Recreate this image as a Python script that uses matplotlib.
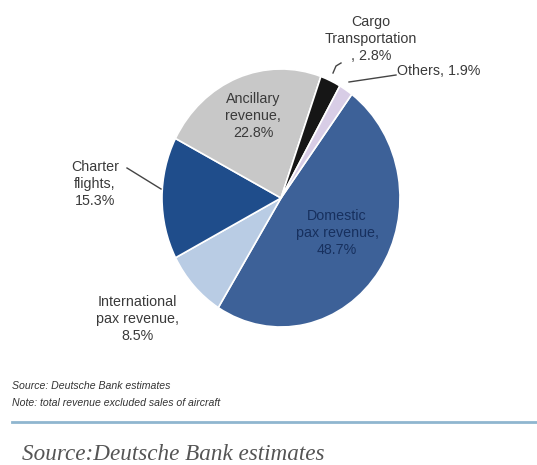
import matplotlib
matplotlib.use("Agg")
import matplotlib.pyplot as plt

# revenue split, clockwise from the top-right
labels = ["Domestic\npax revenue,\n48.7%", "International\npax revenue,\n8.5%",
          "Charter\nflights,\n15.3%", "Ancillary\nrevenue,\n22.8%",
          "Cargo\nTransportation\n, 2.8%", "Others, 1.9%"]
shares = [48.7, 8.5, 15.3, 22.8, 2.8, 1.9]
colors = ["#3d6198", "#b9cce4", "#1f4d8b", "#c8c8c8", "#161616", "#d8cde6"]

W, H = 537, 465
fig = plt.figure(figsize=(W / 100, H / 100), dpi=100)
fig.patch.set_facecolor("white")

def fx(x):
    return x / W

def fy(y):
    return 1 - y / H

# pie axes, slightly taller than wide as in the picture
cx, cy, rx, ry = 281, 198, 119, 129
ax = fig.add_axes([fx(cx - rx), fy(cy + ry), 2 * rx / W, 2 * ry / H])
ax.pie(shares, colors=colors, startangle=53.5, counterclock=False,
       wedgeprops=dict(edgecolor="white", linewidth=1.2))
ax.set_aspect("auto")
ax.set_xlim(-1, 1)
ax.set_ylim(-1, 1)
ax.axis("off")

font = "Liberation Sans"
grey = "#3a3a3a"
kw = dict(family=font, fontsize=10.3, ha="center", va="center", linespacing=1.3)

fig.text(fx(337), fy(233), labels[0], color="#17305e", **kw)
fig.text(fx(137), fy(319), labels[1], color=grey, **kw)
fig.text(fx(95), fy(184), labels[2], color=grey, **kw)
fig.text(fx(253), fy(116), labels[3], color=grey, **kw)
fig.text(fx(371), fy(39), labels[4], color=grey, **kw)
fig.text(fx(397), fy(71), labels[5], color=grey,
         family=font, fontsize=10.3, ha="left", va="center")

# leader lines
lines = [([127, 161], [168, 189]),
         ([341, 336, 333], [63, 66, 73]),
         ([349, 396], [82, 75])]
for xs, ys in lines:
    fig.add_artist(plt.Line2D([fx(v) for v in xs], [fy(v) for v in ys],
                              color="#444444", linewidth=1.0))

# footnotes
fig.text(fx(12), fy(386), "Source: Deutsche Bank estimates", family=font,
         style="italic", fontsize=7.6, color="#333333", va="center")
fig.text(fx(12), fy(403), "Note: total revenue excluded sales of aircraft",
         family=font, style="italic", fontsize=7.6, color="#333333", va="center")
fig.add_artist(plt.Line2D([fx(12), 1], [fy(422), fy(422)],
                          color="#8fb6cf", linewidth=2))
fig.text(fx(22), fy(454), "Source:Deutsche Bank estimates",
         family="Liberation Serif", style="italic", fontsize=16.7,
         color="#555555", va="center")

fig.savefig("out.png", dpi=100)
